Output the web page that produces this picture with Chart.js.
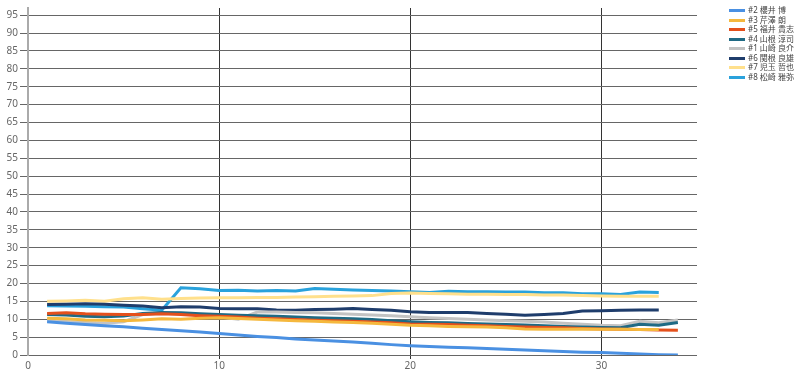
<!DOCTYPE html>
<html>
<head>
<meta charset="utf-8">
<script src="https://cdn.jsdelivr.net/npm/chart.js@4"></script>
<style>
  html, body { margin: 0; padding: 0; background: #fff; }
  #wrap { position: relative; width: 800px; height: 375px; }
  #legend {
    position: absolute; left: 729px; top: 5px;
    font: 8px "Noto Sans", "Noto Sans CJK JP", sans-serif; color: #444;
  }
  .lg-item { height: 9.5px; line-height: 9.5px; white-space: nowrap; }
  .lg-sw { display: inline-block; width: 16px; height: 3px; vertical-align: middle; margin-right: 3px; }
</style>
</head>
<body>
<div id="wrap">
  <canvas id="c" width="800" height="375"></canvas>
  <div id="legend"></div>
</div>
<script>
// race number on x, values per driver
const days = [1, 2, 3, 4, 5, 6, 7, 8, 9, 10, 11, 12, 13, 14, 15, 16, 17,
  18, 19, 20, 21, 22, 23, 24, 25, 26, 27, 28, 29, 30, 31, 32, 33, 34];

const names = ["#2 櫻井 博", "#3 芹澤 朗", "#5 福井 貴志", "#4 山根 淳司",
  "#1 山崎 良介", "#6 関根 良雄", "#7 児玉 哲也", "#8 松崎 雅弥"];

const sakurai = [9.3, 8.9, 8.5, 8.2, 7.9, 7.5, 7.1, 6.8, 6.4, 6.0, 5.6, 5.2, 4.9, 4.5, 4.2, 3.9, 3.6,
  3.3, 2.9, 2.6, 2.4, 2.2, 2.0, 1.8, 1.6, 1.4, 1.2, 1.0, 0.8, 0.7, 0.5, 0.3, 0.1, 0.0];
const serizawa = [10.3, 10.1, 9.8, 9.7, 9.6, 9.8, 10.1, 10.0, 10.3, 10.4, 10.2, 10.0, 9.8, 9.6, 9.4, 9.2, 9.1,
  8.9, 8.6, 8.3, 8.2, 8.0, 7.9, 7.8, 7.6, 7.3, 7.2, 7.2, 7.3, 7.2, 7.2, 7.1, 7.1];
const fukui = [11.6, 11.8, 11.5, 11.4, 11.3, 11.3, 11.5, 11.3, 11.0, 10.8, 10.6, 10.3, 10.1, 9.9, 9.7, 9.6, 9.4,
  9.2, 9.0, 8.7, 8.6, 8.5, 8.3, 8.2, 8.0, 7.8, 7.7, 7.6, 7.4, 7.3, 7.2, 7.1, 7.0, 6.9];
const yamane = [11.3, 11.2, 10.8, 10.7, 10.9, 11.6, 11.9, 11.8, 11.5, 11.3, 11.1, 11.0, 10.8, 10.6, 10.4, 10.3, 10.1,
  9.9, 9.6, 9.3, 9.1, 9.0, 8.8, 8.7, 8.5, 8.4, 8.2, 8.0, 7.8, 7.7, 7.6, 8.6, 8.3, 9.1];
const yamazaki = [9.7, 9.4, 9.1, 8.9, 9.3, 11.3, 11.6, 11.5, 11.2, 10.6, 10.0, 12.0, 12.0, 11.9, 11.8, 11.6, 11.4,
  11.2, 11.0, 10.7, 10.4, 10.2, 10.0, 9.8, 9.6, 9.4, 9.2, 8.9, 8.6, 8.3, 8.2, 9.4, 9.0, 9.8];
const sekine = [14.1, 14.2, 14.3, 14.2, 13.9, 13.7, 13.2, 13.5, 13.4, 13.0, 12.9, 12.9, 12.6, 12.5, 12.7, 12.8, 13.0,
  12.7, 12.5, 12.1, 11.9, 11.9, 11.9, 11.6, 11.4, 11.1, 11.3, 11.6, 12.3, 12.4, 12.5, 12.6, 12.6];
const kodama = [15.0, 15.1, 15.3, 15.0, 15.7, 16.0, 15.6, 15.8, 15.9, 16.0, 16.0, 16.1, 16.1, 16.2, 16.3, 16.4, 16.5,
  16.6, 17.2, 17.3, 17.2, 17.1, 17.0, 17.0, 16.9, 16.9, 16.8, 16.8, 16.6, 16.5, 16.4, 16.4, 16.4];
const matsuzaki = [13.8, 13.7, 13.6, 13.5, 13.4, 12.9, 12.5, 18.8, 18.5, 18.0, 18.1, 17.9, 18.0, 17.9, 18.6, 18.4, 18.2,
  18.0, 17.9, 17.7, 17.5, 17.8, 17.7, 17.7, 17.6, 17.6, 17.4, 17.4, 17.1, 17.1, 16.9, 17.6, 17.5];

const series = [sakurai, serizawa, fukui, yamane, yamazaki, sekine, kodama, matsuzaki];
const colors = ["#4a90e2", "#f5b83d", "#e4501c", "#1f6a84", "#c3c3c3", "#1f3d6c", "#ffe08c", "#2aa2dc"];

const yTicks = [0, 5, 10, 15, 20, 25, 30, 35, 40, 45, 50, 55, 60, 65, 70, 75, 80, 85, 90, 95];
const xTicks = [0, 10, 20, 30];

const datasets = series.map((vals, i) => ({
  label: names[i],
  data: vals.map((v, j) => ({ x: days[j], y: v })),
  borderColor: colors[i],
  backgroundColor: colors[i],
  borderWidth: 3,
  pointRadius: 0,
  tension: 0,
}));

new Chart(document.getElementById("c"), {
  type: "line",
  data: { datasets },
  options: {
    responsive: false,
    animation: false,
    layout: { padding: { top: 3, right: 103 } },
    plugins: { legend: { display: false }, tooltip: { enabled: false } },
    scales: {
      x: {
        type: "linear", min: 0, max: 35,
        afterBuildTicks: s => { s.ticks = xTicks.map(v => ({ value: v })); },
        afterFit: s => { s.height = 20; },
        ticks: { color: "#666", font: { size: 10, family: "'Noto Sans', sans-serif" }, padding: 1, maxRotation: 0 },
        grid: {
          color: c => (c.tick && c.tick.value === 0 ? "rgba(0,0,0,0)" : "#333"),
          tickLength: 4,
        },
        border: { display: false },
      },
      y: {
        min: 0, max: 97,
        afterBuildTicks: s => { s.ticks = yTicks.map(v => ({ value: v })); },
        afterFit: s => { s.width = 28; },
        ticks: { color: "#666", font: { size: 10, family: "'Noto Sans', sans-serif" }, padding: 2 },
        grid: { color: "#666", tickLength: 8 },
        border: { color: "#aaa", width: 2 },
      },
    },
  },
});

const legend = document.getElementById("legend");
names.forEach((n, i) => {
  const row = document.createElement("div");
  row.className = "lg-item";
  const sw = document.createElement("span");
  sw.className = "lg-sw";
  sw.style.background = colors[i];
  row.appendChild(sw);
  row.appendChild(document.createTextNode(n));
  legend.appendChild(row);
});
</script>
</body>
</html>
